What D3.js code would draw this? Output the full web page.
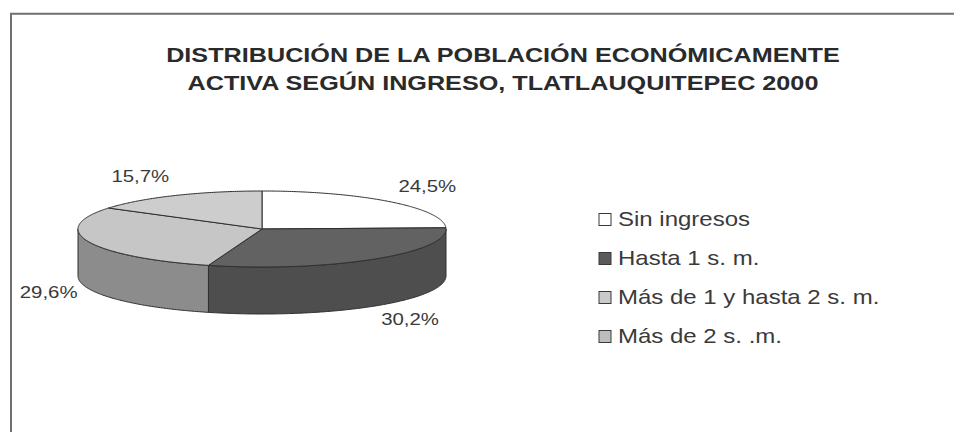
<!DOCTYPE html>
<html>
<head>
<meta charset="utf-8">
<script src="https://cdn.jsdelivr.net/npm/d3@7"></script>
<style>
  html, body { margin: 0; padding: 0; background: #ffffff; }
  svg { display: block; }
</style>
</head>
<body>
<svg id="chart" width="954" height="432"></svg>
<script>
// ---- data ----
const titleLines = ["DISTRIBUCIÓN DE LA POBLACIÓN ECONÓMICAMENTE", "ACTIVA SEGÚN INGRESO, TLATLAUQUITEPEC 2000"];
const categories = ["Sin ingresos", "Hasta 1 s. m.", "Más de 1 y hasta 2 s. m.", "Más de 2 s. .m."];
const values = [24.5, 30.2, 29.6, 15.7];
const valueLabels = ["24,5%", "30,2%", "29,6%", "15,7%"];

// ---- styles ----
const topColors = ["#ffffff", "#626262", "#c6c6c6", "#cdcdcd"];
const sideColors = ["#d8d8d8", "#4e4e4e", "#8c8c8c", "#9c9c9c"];
const legendColors = ["#ffffff", "#5a5a5a", "#cacaca", "#bdbdbd"];
const edge = "#2e2e2e";
const textColor = "#3a3a3a";
const stretch = 1.2; // horizontal stretch of the scanned text
const font = "'Liberation Sans', Arial, sans-serif";

const svg = d3.select("#chart");

// frame
svg.append("path")
  .attr("d", "M11,432 L11,13.7 L954,13.7")
  .attr("fill", "none").attr("stroke", "#707070").attr("stroke-width", 2);

// title
svg.append("g").selectAll("g").data(titleLines).join("g")
  .attr("transform", (d, i) => `translate(503, ${61.5 + i * 28.5}) scale(${stretch},1)`)
  .append("text")
  .attr("text-anchor", "middle")
  .attr("font-family", font)
  .attr("font-weight", "bold")
  .attr("font-size", 21)
  .attr("fill", "#2a2a2a")
  .text(d => d);

// ---- 3D pie ----
const cx = 262, cy = 229, rx = 184, ry = 38, depth = 47;
const pie = d3.pie().sort(null).value(d => d);
const arcs = pie(values);

const colorTop = d3.scaleOrdinal().domain(d3.range(values.length)).range(topColors);
const colorSide = d3.scaleOrdinal().domain(d3.range(values.length)).range(sideColors);

const px = a => cx + rx * Math.sin(a);
const py = a => cy - ry * Math.cos(a);
const line = d3.line();

function samples(a0, a1) {
  const n = Math.max(2, Math.ceil((a1 - a0) / 0.01));
  return d3.range(n + 1).map(i => a0 + (a1 - a0) * i / n);
}

const gSide = svg.append("g");
const gTop = svg.append("g");

arcs.forEach((d, i) => {
  // side (visible front half: angles between PI/2 and 3PI/2)
  const s0 = Math.max(d.startAngle, Math.PI / 2);
  const s1 = Math.min(d.endAngle, 3 * Math.PI / 2);
  if (s1 > s0) {
    const topPts = samples(s0, s1).map(a => [px(a), py(a)]);
    const botPts = samples(s0, s1).reverse().map(a => [px(a), py(a) + depth]);
    gSide.append("path")
      .attr("d", line(topPts.concat(botPts)) + "Z")
      .attr("fill", colorSide(i))
      .attr("stroke", edge).attr("stroke-width", 1)
      .attr("stroke-linejoin", "round");
  }
  // top face
  const pts = [[cx, cy]].concat(samples(d.startAngle, d.endAngle).map(a => [px(a), py(a)]));
  gTop.append("path")
    .attr("d", line(pts) + "Z")
    .attr("fill", colorTop(i))
    .attr("stroke", edge).attr("stroke-width", 1)
    .attr("stroke-linejoin", "round");
});

// value labels: outside the rim at the slice's mid angle
const labelGap = 12, labelRy = 60;
svg.append("g").selectAll("g").data(arcs).join("g")
  .attr("transform", d => {
    const m = (d.startAngle + d.endAngle) / 2;
    const c = Math.cos(m);
    const x = cx + (rx + labelGap) * Math.sin(m);
    const y = cy - labelRy * c + (c < 0 ? 0.9 * depth : 0) + 6;
    return `translate(${x}, ${y}) scale(${stretch},1)`;
  })
  .append("text")
  .attr("text-anchor", d => Math.sin((d.startAngle + d.endAngle) / 2) >= 0 ? "start" : "end")
  .attr("font-family", font)
  .attr("font-size", 17)
  .attr("fill", textColor)
  .text((d, i) => valueLabels[i]);

// legend
const legendY = d3.scalePoint().domain(categories).range([226, 343]);
const lg = svg.append("g").selectAll("g").data(categories).join("g")
  .attr("transform", d => `translate(599, ${legendY(d)})`);
lg.append("rect")
  .attr("x", 0).attr("y", -12.5).attr("width", 12).attr("height", 12)
  .attr("fill", (d, i) => legendColors[i])
  .attr("stroke", "#3a3a3a").attr("stroke-width", 1);
lg.append("g")
  .attr("transform", `translate(19,0) scale(${stretch},1)`)
  .append("text")
  .attr("font-family", font)
  .attr("font-size", 20)
  .attr("fill", textColor)
  .text(d => d);
</script>
</body>
</html>
